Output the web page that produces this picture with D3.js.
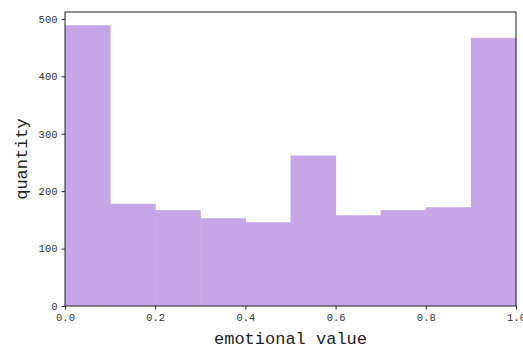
<!DOCTYPE html>
<html><head><meta charset="utf-8">
<script src="https://cdn.jsdelivr.net/npm/d3@7"></script>
<style>body{margin:0;background:#fff;overflow:hidden}</style>
</head><body>
<script>
const binStarts = [0.0,0.1,0.2,0.3,0.4,0.5,0.6,0.7,0.8,0.9];
const binWidth = 0.1;
const counts = [489,178,167,153,146,262,158,167,172,467];
const xTicks = [0.0,0.2,0.4,0.6,0.8,1.0];
const xTickLabels = ["0.0","0.2","0.4","0.6","0.8","1.0"];
const yTicks = [0,100,200,300,400,500];
const xLabel = "emotional value";
const yLabel = "quantity";

const W=523,H=349;
const m={l:65,r:7,t:12,b:43};
const svg=d3.select("body").append("svg").attr("width",W).attr("height",H);
const x=d3.scaleLinear().domain([0,1]).range([m.l,W-m.r]);
const y=d3.scaleLinear().domain([0,512]).range([H-m.b,m.t]);

svg.append("g").selectAll("rect").data(binStarts).join("rect")
  .attr("x",d=>x(d)).attr("width",d=>x(d+binWidth)-x(d)+0.5)
  .attr("y",(d,i)=>y(counts[i])).attr("height",(d,i)=>y(0)-y(counts[i]))
  .attr("fill","#c6a6e6");

const font="'Liberation Mono','DejaVu Sans Mono',monospace";
const xa=svg.append("g").attr("transform",`translate(0,${H-m.b})`)
  .call(d3.axisBottom(x).tickValues(xTicks).tickFormat((d,i)=>xTickLabels[i]).tickSize(3.5).tickPadding(4));
const ya=svg.append("g").attr("transform",`translate(${m.l},0)`)
  .call(d3.axisLeft(y).tickValues(yTicks).tickSize(3.5).tickPadding(4));
[xa,ya].forEach(a=>{a.select(".domain").remove();
  a.selectAll("text").attr("font-family",font).attr("font-size",10.5).attr("fill","#333");
  a.selectAll("line").attr("stroke","#222");});

svg.append("rect").attr("x",m.l).attr("y",m.t).attr("width",W-m.r-m.l).attr("height",H-m.b-m.t)
  .attr("fill","none").attr("stroke","#222").attr("stroke-width",1);

svg.append("text").attr("x",(m.l+W-m.r)/2).attr("y",H-5).attr("text-anchor","middle")
  .attr("font-family",font).attr("font-size",17).attr("fill","#222").text(xLabel);
svg.append("text").attr("transform",`translate(27,${(m.t+H-m.b)/2}) rotate(-90)`).attr("text-anchor","middle")
  .attr("font-family",font).attr("font-size",17).attr("fill","#222").text(yLabel);
</script>
</body></html>
